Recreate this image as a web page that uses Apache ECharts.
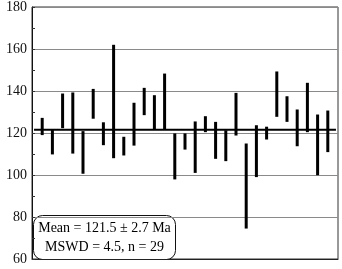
<!DOCTYPE html>
<html>
<head>
<meta charset="utf-8">
<script src="https://cdn.jsdelivr.net/npm/echarts@6/dist/echarts.min.js"></script>
<style>
  html, body { margin: 0; padding: 0; background: #fff; }
  #chart { width: 342px; height: 269px; }
</style>
</head>
<body>
<div id="chart"></div>
<script>
  // analysis number (1..29), upper and lower ends of each age error bar (Ma)
  var spots = [1,2,3,4,5,6,7,8,9,10,11,12,13,14,15,16,17,18,19,20,21,22,23,24,25,26,27,28,29];
  var upper = [127.2,121.7,138.8,139.3,120.9,141.0,125.1,162.0,118.2,134.4,141.5,138.0,148.3,119.8,119.8,125.5,128.0,125.3,121.3,139.1,115.0,123.7,123.0,149.3,137.5,131.2,143.9,128.8,130.7];
  var lower = [119.0,109.8,122.3,110.2,100.6,126.8,114.2,108.0,109.3,114.0,128.5,121.7,121.7,97.9,112.1,101.0,120.4,107.7,106.6,118.8,74.5,99.0,116.9,127.7,125.3,113.7,120.4,99.9,110.9];
  var yTicks = [60, 80, 100, 120, 140, 160, 180];
  var meanAge = 121.5;
  var meanText = 'Mean = 121.5 ± 2.7 Ma';
  var mswdText = 'MSWD = 4.5, n = 29';

  var serif = '"Liberation Serif", "DejaVu Serif", serif';

  var barData = spots.map(function (s, i) { return [s, lower[i], upper[i]]; });

  var chart = echarts.init(document.getElementById('chart'));
  chart.setOption({
    animation: false,
    backgroundColor: '#fff',
    grid: {
      left: 32,
      right: 4,
      top: 7,
      bottom: 10,
      show: true,
      borderColor: '#333',
      borderWidth: 1
    },
    xAxis: {
      type: 'value',
      min: 0,
      max: 30,
      axisLine: { show: true, onZero: false, lineStyle: { color: '#222', width: 1 } },
      axisTick: { show: false },
      axisLabel: { show: false },
      splitLine: { show: false }
    },
    yAxis: {
      type: 'value',
      min: yTicks[0],
      max: yTicks[yTicks.length - 1],
      interval: 20,
      axisLine: { show: true, lineStyle: { color: '#111', width: 1 } },
      axisTick: { show: true, inside: true, length: 3, lineStyle: { color: '#333' } },
      minorTick: { show: true, splitNumber: 2, length: 3, lineStyle: { color: '#333' } },
      axisLabel: {
        margin: 5,
        color: '#111',
        fontFamily: serif,
        fontSize: 14
      },
      splitLine: { show: true, lineStyle: { color: '#8a8a8a', width: 1 } }
    },
    series: [
      {
        type: 'custom',
        data: barData,
        renderItem: function (params, api) {
          var top = api.coord([api.value(0), api.value(2)]);
          var bot = api.coord([api.value(0), api.value(1)]);
          var w = 3;
          return {
            type: 'rect',
            shape: { x: top[0] - w / 2, y: top[1], width: w, height: bot[1] - top[1] },
            style: { fill: '#000' }
          };
        },
        z: 3
      },
      {
        type: 'line',
        data: [[0.2, meanAge], [29.8, meanAge]],
        symbol: 'none',
        lineStyle: { color: '#000', width: 2 },
        z: 4
      }
    ],
    graphic: [
      {
        type: 'group',
        left: 33,
        top: 215,
        z: 10,
        children: [
          {
            type: 'rect',
            shape: { x: 0, y: 0, width: 142, height: 44, r: 9 },
            style: { fill: '#fff', stroke: '#111', lineWidth: 1 }
          },
          {
            type: 'text',
            x: 71,
            y: 13,
            style: {
              text: meanText,
              fill: '#000',
              font: '14px ' + serif,
              textAlign: 'center',
              textVerticalAlign: 'middle'
            }
          },
          {
            type: 'text',
            x: 71,
            y: 32,
            style: {
              text: mswdText,
              fill: '#000',
              font: '14px ' + serif,
              textAlign: 'center',
              textVerticalAlign: 'middle'
            }
          }
        ]
      }
    ]
  });
</script>
</body>
</html>
